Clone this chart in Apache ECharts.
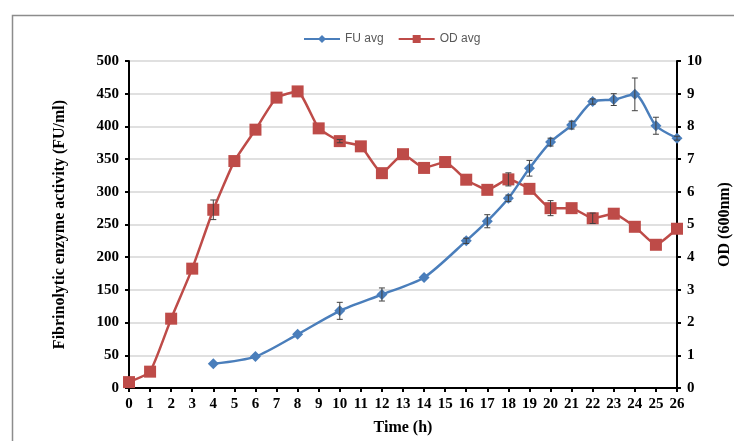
<!DOCTYPE html>
<html>
<head>
<meta charset="utf-8">
<script src="https://cdn.jsdelivr.net/npm/echarts@6/dist/echarts.min.js"></script>
<style>
html,body{margin:0;padding:0;background:#fff;}
#c{width:734px;height:441px;}
</style>
</head>
<body>
<div id="c"></div>
<script>
var fuTime = [4, 6, 8, 10, 12, 14, 16, 17, 18, 19, 20, 21, 22, 23, 24, 25, 26];
var fuAvg  = [37, 48, 82, 118, 143, 169, 225, 255, 290, 336, 376, 402, 438, 441, 449, 401, 382];
var fuErr  = [0, 0, 0, 13, 10, 0, 4, 10, 5, 12, 6, 6, 4, 9, 25, 13, 3];

var odTime = [0, 1, 2, 3, 4, 5, 6, 7, 8, 9, 10, 11, 12, 13, 14, 15, 16, 17, 18, 19, 20, 21, 22, 23, 24, 25, 26];
var odAvg  = [0.18, 0.5, 2.12, 3.65, 5.45, 6.94, 7.9, 8.88, 9.07, 7.94, 7.55, 7.39, 6.57, 7.15, 6.73, 6.91, 6.37, 6.06, 6.38, 6.09, 5.5, 5.5, 5.19, 5.33, 4.93, 4.38, 4.87];
var odErr  = [0, 0, 0, 0, 0.3, 0, 0, 0, 0, 0, 0.05, 0, 0, 0, 0, 0, 0, 0, 0.2, 0, 0.23, 0, 0.16, 0, 0, 0, 0];

var xTicks = [0, 26, 1];
var leftTicks = [0, 500, 50];
var rightTicks = [0, 10, 1];

var BLUE = '#4A7EBB';
var RED = '#BE4B48';

function pairs(xs, ys) { return xs.map(function (x, i) { return [x, ys[i]]; }); }
function errData(xs, ys, es) {
  var out = [];
  xs.forEach(function (x, i) { if (es[i] > 0) out.push([x, ys[i] - es[i], ys[i] + es[i]]); });
  return out;
}
function errRender(params, api) {
  var x = api.value(0);
  var lo = api.coord([x, api.value(1)]);
  var hi = api.coord([x, api.value(2)]);
  var w = 3;
  var st = { stroke: '#404040', lineWidth: 1 };
  return {
    type: 'group',
    children: [
      { type: 'line', shape: { x1: lo[0], y1: lo[1], x2: hi[0], y2: hi[1] }, style: st },
      { type: 'line', shape: { x1: lo[0] - w, y1: lo[1], x2: lo[0] + w, y2: lo[1] }, style: st },
      { type: 'line', shape: { x1: hi[0] - w, y1: hi[1], x2: hi[0] + w, y2: hi[1] }, style: st }
    ]
  };
}

var serifBold = { fontFamily: 'Liberation Serif', fontWeight: 'bold', color: '#000' };

var chart = echarts.init(document.getElementById('c'), null, { renderer: 'canvas' });
chart.setOption({
  animation: false,
  backgroundColor: '#fff',
  graphic: [{
    type: 'rect', left: 10, top: 13, z: -10, silent: true,
    shape: { width: 800, height: 500 },
    style: { fill: 'none', stroke: '#8c8c8c', lineWidth: 1.5 }
  }],
  legend: {
    top: 28, left: 298,
    itemWidth: 36, itemHeight: 10, itemGap: 14,
    textStyle: { fontFamily: 'Liberation Sans', fontSize: 12, color: '#595959' },
    data: ['FU avg', 'OD avg']
  },
  grid: { left: 129, right: 57, top: 61, bottom: 53, containLabel: false, outerBoundsMode: 'none' },
  xAxis: {
    type: 'value', min: xTicks[0], max: xTicks[1], interval: xTicks[2],
    name: 'Time (h)', nameLocation: 'middle', nameGap: 32,
    nameTextStyle: Object.assign({ fontSize: 16 }, serifBold),
    axisLine: { lineStyle: { color: '#000', width: 2 } },
    axisTick: { show: true, length: 4, lineStyle: { color: '#000', width: 2 } },
    axisLabel: Object.assign({ fontSize: 15, margin: 9 }, serifBold),
    splitLine: { show: false }
  },
  yAxis: [{
    type: 'value', min: leftTicks[0], max: leftTicks[1], interval: leftTicks[2],
    name: 'Fibrinolytic enzyme activity (FU/ml)', nameLocation: 'middle', nameGap: 61,
    nameTextStyle: Object.assign({ fontSize: 16 }, serifBold),
    axisLine: { show: true, lineStyle: { color: '#000', width: 2 } },
    axisTick: { show: true, length: 4, lineStyle: { color: '#000', width: 2 } },
    axisLabel: Object.assign({ fontSize: 15, margin: 10 }, serifBold),
    splitLine: { show: true, lineStyle: { color: '#d6d6d6', width: 1.5 } }
  }, {
    type: 'value', min: rightTicks[0], max: rightTicks[1], interval: rightTicks[2],
    position: 'right',
    name: 'OD (600nm)', nameLocation: 'middle', nameGap: 40, nameRotate: 90,
    nameTextStyle: Object.assign({ fontSize: 16 }, serifBold),
    axisLine: { show: true, lineStyle: { color: '#000', width: 2 } },
    axisTick: { show: true, length: 4, lineStyle: { color: '#000', width: 2 } },
    axisLabel: Object.assign({ fontSize: 15, margin: 10 }, serifBold),
    splitLine: { show: false }
  }],
  series: [{
    name: 'FU avg', type: 'line', yAxisIndex: 0,
    data: pairs(fuTime, fuAvg),
    smooth: 0.25,
    symbol: 'diamond', symbolSize: 11,
    itemStyle: { color: BLUE },
    lineStyle: { color: BLUE, width: 2.5 },
    z: 3
  }, {
    name: 'OD avg', type: 'line', yAxisIndex: 1,
    data: pairs(odTime, odAvg),
    smooth: 0.15,
    symbol: 'rect', symbolSize: 12,
    itemStyle: { color: RED },
    lineStyle: { color: RED, width: 2.5 },
    z: 2
  }, {
    name: 'fuErr', type: 'custom', yAxisIndex: 0,
    data: errData(fuTime, fuAvg, fuErr),
    renderItem: errRender, z: 5, silent: true,
    encode: { x: 0, y: [1, 2] }
  }, {
    name: 'odErr', type: 'custom', yAxisIndex: 1,
    data: errData(odTime, odAvg, odErr),
    renderItem: errRender, z: 5, silent: true,
    encode: { x: 0, y: [1, 2] }
  }]
});
</script>
</body>
</html>
